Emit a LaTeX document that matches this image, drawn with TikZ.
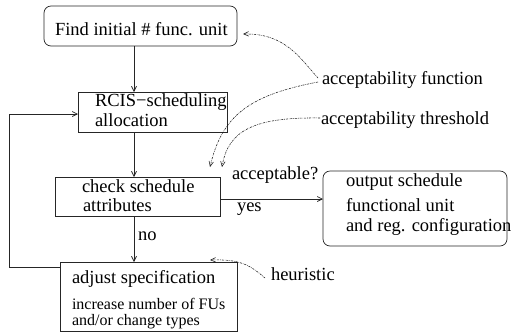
\documentclass[tikz,border=0pt]{standalone}
\usepackage{fontspec}
\setmainfont{Liberation Serif}
\usetikzlibrary{arrows.meta}
\begin{document}
\begin{tikzpicture}[x=1pt,y=-1pt,
  every node/.style={inner sep=0pt,outer sep=0pt},
  txt/.style={font=\fontsize{18.5}{21}\selectfont,anchor=west},
  small/.style={font=\fontsize{16}{18}\selectfont,anchor=west},
  boxr/.style={draw=black!85,line width=0.7pt,rectangle},
  boxround/.style={draw=black!85,line width=0.7pt,rectangle,rounded corners=7pt},
  arr/.style={draw=black!85,line width=0.7pt,-{Straight Barb[length=5pt,width=5pt]}},
  ann/.style={draw=black!90,line width=0.55pt,dash pattern=on 2pt off 1pt on 0.6pt off 1pt,-{Straight Barb[length=5pt,width=4.5pt]}}]
\useasboundingbox (0,0) rectangle (516,333);
\fill[white] (0,0) rectangle (516,333);
% boxes
\node[boxround,minimum width=193pt,minimum height=40pt] (b1) at (140.5,26) {};
\node[boxr,minimum width=149pt,minimum height=40pt] (b2) at (152.5,112) {};
\node[boxr,minimum width=165pt,minimum height=39pt] (b3) at (137.5,196.5) {};
\node[boxr,minimum width=177pt,minimum height=69pt] (b4) at (148.5,296.5) {};
\node[boxround,minimum width=184pt,minimum height=75pt] (out) at (415,208.5) {};
% texts
\node[txt] (t1) at (55,29) {Find initial \# func. unit};
\node[txt] (t2a) at (95,102) {RCIS−scheduling};
\node[txt] (t2b) at (95,120) {allocation};
\node[txt] (t3a) at (82,186) {check schedule};
\node[txt] (t3b) at (83,205) {attributes};
\node[txt] (t4a) at (72,279) {adjust specification};
\node[small] (t4b) at (72,304) {increase number of FUs};
\node[small] (t4c) at (72,322) {and/or change types};
\node[txt] (o1) at (346,182) {output schedule};
\node[txt] (o2) at (346,205) {functional unit};
\node[txt] (o3) at (346,227) {and reg. configuration};
\node[txt,anchor=base west] (lno) at (138,240) {no};
\node[txt] (lacc) at (232,175) {acceptable?};
\node[txt,anchor=base west] (lyes) at (237,211) {yes};
\node[txt] (af) at (322,80) {acceptability function};
\node[txt] (at) at (321,120) {acceptability threshold};
\node[txt] (he) at (271,274) {heuristic};
% main connectors
\coordinate (cx) at (134,0);
\draw[arr] (b1.south -| cx) -- (b2.north -| cx);
\draw[arr] (b2.south -| cx) -- (b3.north -| cx);
\draw[arr] (b3.south -| cx) -- (b4.north -| cx);
\coordinate (lx) at (9,0);
\draw[arr] ([yshift=-5pt]b4.north west) -| (lx |- 0,114) -- ([yshift=-2pt]b2.west);
\draw[arr] ([yshift=-2.5pt]b3.east) -- ([yshift=-2.5pt]b3.east -| out.west);
% annotations
\coordinate (afa) at ([xshift=-4pt,yshift=2pt]af.west);
\coordinate (afb) at ([xshift=-4pt,yshift=-2pt]af.west);
\draw[ann] (afa) .. controls (300,58) and (285,33) .. ([xshift=6pt,yshift=-8pt]b1.east);
\draw[ann] (afb) .. controls (250,95) and (222,115) .. (210,167);
\draw[ann] ([xshift=-1pt,yshift=2pt]at.west) .. controls (255,117) and (228,130) .. (222,167);
\draw[ann] ([xshift=-6pt,yshift=-4pt]he.west) .. controls (250,265) and (240,259) .. (210,260);
\end{tikzpicture}
\end{document}
